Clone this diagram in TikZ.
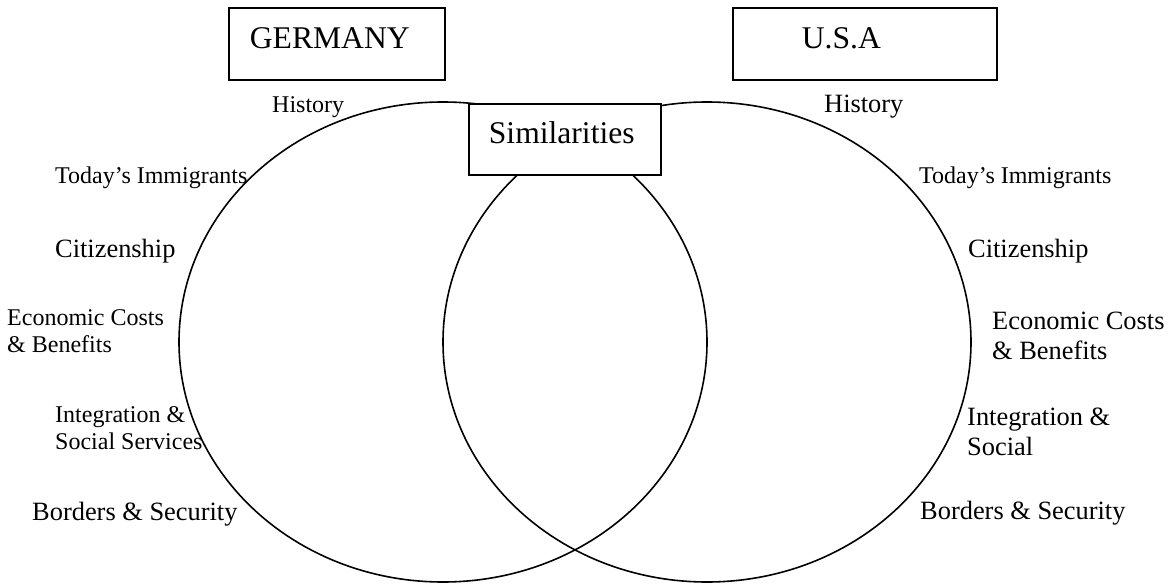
\documentclass[tikz,border=0pt]{standalone}
\usepackage{fontspec}
\setmainfont{Liberation Serif}
\begin{document}
\begin{tikzpicture}[x=1pt,y=-1pt,
  big/.style={font=\fontsize{31.6}{36}\selectfont},
  med/.style={font=\fontsize{26.4}{30}\selectfont},
  sml/.style={font=\fontsize{24}{27.5}\selectfont},
  lbl/.style={anchor=base west, inner sep=0pt},
  box/.style={draw, line width=1.8pt, fill=white, anchor=north west, inner ysep=0pt,
              align=left, text height=41pt, text depth=31pt},
  ring/.style={line width=1.6pt}]
\useasboundingbox (0,0) rectangle (1173,586);
% circles
\draw[ring] (443,342) ellipse [x radius=264, y radius=240];
\draw[ring] (707,342) ellipse [x radius=264, y radius=240];
% title boxes
\node[box, big, inner xsep=21pt, text width=174pt] (germany) at (228,7) {GERMANY};
\node[box, big, inner xsep=69pt, text width=126pt] (usa) at (732,7) {U.S.A};
\node[box, big, inner xsep=20pt, text width=152pt, text height=40pt, text depth=31pt] (simil) at (468,103) {Similarities};
% left labels
\node[lbl, sml] (lhist) at (272,112) {History};
\node[lbl, sml] (ltoday) at (55,183) {Today’s Immigrants};
\node[lbl, med] (lcit) at (55,257) {Citizenship};
\node[lbl, sml] (lecon) at (7,325) {\begin{tabular}[t]{@{}l@{}}Economic Costs\\\& Benefits\end{tabular}};
\node[lbl, sml] (linteg) at (55,422) {\begin{tabular}[t]{@{}l@{}}Integration \&\\Social Services\end{tabular}};
\node[lbl, med] (lbord) at (32,520) {Borders \& Security};
% right labels
\node[lbl, med] (rhist) at (824,113) {History};
\node[lbl, sml] (rtoday) at (919,183) {Today’s Immigrants};
\node[lbl, med] (rcit) at (968,257) {Citizenship};
\node[lbl, med] (recon) at (992,329) {\begin{tabular}[t]{@{}l@{}}Economic Costs\\\& Benefits\end{tabular}};
\node[lbl, med] (rinteg) at (967,425) {\begin{tabular}[t]{@{}l@{}}Integration \&\\Social\end{tabular}};
\node[lbl, med] (rbord) at (920,519) {Borders \& Security};
\end{tikzpicture}
\end{document}
